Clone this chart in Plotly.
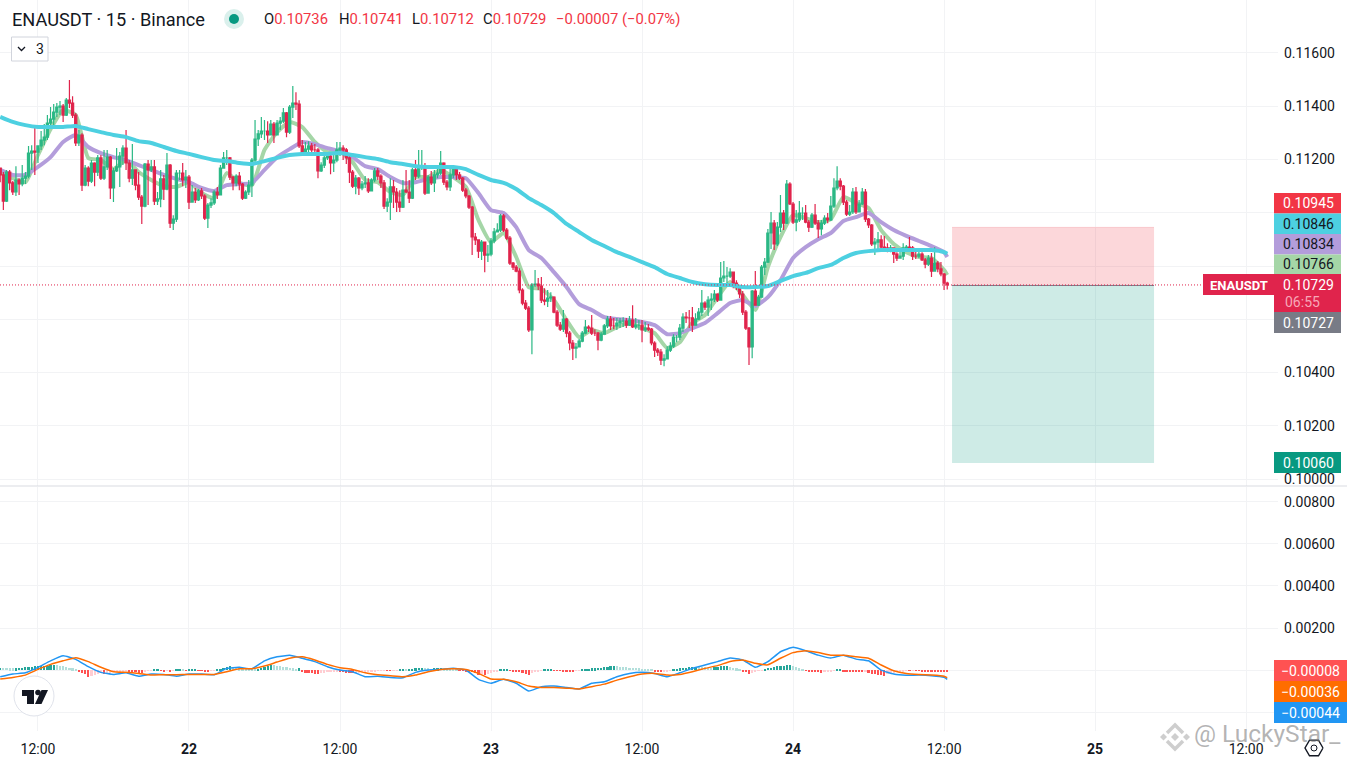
import numpy as np
import pandas as pd
import plotly.graph_objects as go

# 15 minute candles, prices in units of 0.00001
closes = [11142,11044,11153,11112,11078,11123,11108,11130,11138,11224,11232,11228,11251,11273,11284,11337,11352,11378,11397,11401,
11367,11423,11412,11367,11262,11292,11104,11168,11119,11187,11153,11206,11130,11172,11209,11093,11157,11172,11213,11243,
11187,11130,11161,11104,11059,11025,11183,11161,11172,11044,11052,11127,11089,11179,10961,10976,11149,11149,11123,11134,
11040,11078,11048,11082,11063,10980,11029,11037,11078,11067,11168,11206,11206,11134,11112,11138,11108,11055,11078,11104,
11198,11277,11296,11307,11307,11292,11333,11292,11337,11344,11375,11303,11397,11412,11408,11251,11224,11239,11251,11236,
11236,11157,11179,11206,11213,11187,11198,11236,11243,11236,11206,11153,11100,11130,11093,11108,11112,11082,11123,11157,
11138,11112,11025,11040,11097,11078,11040,11021,11085,11078,11055,11161,11138,11175,11175,11074,11134,11112,11142,11149,
11187,11115,11097,11142,11172,11142,11130,11085,11063,11021,10909,10898,10856,10890,10841,10845,10894,10928,10935,10988,
10935,10905,10811,10796,10781,10710,10661,10642,10560,10729,10732,10725,10672,10668,10680,10683,10627,10578,10563,10601,
10548,10511,10492,10496,10518,10548,10571,10567,10548,10548,10522,10544,10575,10601,10575,10575,10586,10593,10593,10578,
10597,10571,10578,10578,10560,10567,10563,10511,10484,10477,10447,10451,10484,10499,10533,10533,10567,10608,10605,10605,
10578,10601,10627,10661,10646,10672,10676,10695,10672,10755,10762,10762,10777,10736,10721,10695,10627,10567,10496,10706,
10653,10683,10796,10815,10924,10961,10883,10946,10999,10961,11108,11033,10965,10973,10999,10999,10965,10946,10991,10961,
10939,10961,10980,10973,11025,11093,11119,11100,11040,10995,11003,11078,11003,11033,11078,10976,10954,10883,10890,10898,
10871,10868,10860,10868,10845,10830,10837,10868,10871,10868,10837,10837,10845,10823,10807,10830,10781,10811,10789,10770,
10736,10729]
highs = [11168,11153,11161,11161,11119,11175,11130,11179,11153,11251,11254,11322,11254,11307,11333,11367,11397,11408,11412,11420,
11408,11431,11499,11438,11375,11311,11299,11179,11175,11198,11190,11217,11217,11236,11236,11213,11168,11243,11228,11254,
11311,11198,11258,11161,11153,11067,11187,11198,11198,11198,11078,11161,11142,11224,11183,10991,11161,11161,11187,11161,
11142,11104,11093,11089,11093,11070,11037,11055,11085,11097,11179,11228,11236,11209,11138,11145,11153,11112,11085,11123,
11206,11348,11311,11360,11348,11344,11348,11341,11348,11360,11393,11378,11405,11476,11453,11423,11273,11266,11269,11262,
11258,11243,11190,11224,11228,11217,11224,11266,11266,11254,11243,11213,11161,11142,11134,11119,11138,11130,11130,11168,
11168,11145,11123,11055,11130,11123,11093,11085,11123,11161,11123,11168,11198,11236,11236,11187,11142,11157,11161,11168,
11232,11190,11123,11168,11179,11175,11153,11134,11093,11067,11025,10924,10898,10898,10879,10879,10905,10943,10961,10995,
10995,10943,10913,10815,10804,10792,10717,10672,10650,10736,10785,10755,10759,10717,10710,10702,10687,10635,10590,10635,
10605,10556,10522,10511,10526,10556,10597,10578,10616,10563,10552,10552,10582,10612,10612,10605,10605,10605,10608,10605,
10612,10653,10605,10597,10597,10590,10582,10567,10518,10492,10488,10469,10499,10514,10544,10541,10582,10623,10627,10635,
10646,10623,10642,10710,10668,10687,10698,10710,10698,10815,10819,10796,10792,10777,10747,10729,10706,10635,10571,10710,
10781,10691,10804,10830,10939,11003,10973,10965,11067,11010,11123,11115,11040,11010,11044,11021,11029,10973,10999,11033,
10973,10973,10991,10999,11063,11130,11175,11130,11104,11048,11029,11093,11097,11048,11093,11089,10980,10958,10905,10928,
10916,10913,10886,10879,10871,10852,10860,10886,10879,10909,10875,10860,10860,10852,10830,10841,10849,10871,10819,10815,
10774,10741]
lows = [11115,11010,11040,11085,11067,11063,11067,11100,11108,11130,11161,11142,11187,11236,11254,11273,11326,11329,11360,11367,
11341,11363,11393,11356,11251,11251,11082,11100,11100,11112,11100,11138,11123,11123,11161,11052,11040,11153,11097,11179,
11161,11115,11104,11085,11048,10958,11021,11029,11153,11029,11029,11021,11048,11085,10943,10935,10965,11123,11100,11093,
11014,11044,11037,11044,11052,10973,10943,11018,11029,11052,11067,11168,11179,11123,11085,11100,11085,11048,11052,11067,
11059,11190,11251,11281,11273,11262,11292,11262,11292,11311,11337,11284,11296,11356,11386,11243,11213,11221,11228,11228,
11217,11130,11153,11168,11198,11145,11153,11190,11213,11198,11183,11112,11093,11070,11067,11085,11093,11074,11082,11115,
11123,11093,11014,11003,10973,11018,11003,11003,11018,11074,11037,11052,11123,11130,11161,11067,11078,11104,11078,11130,
11142,11104,11085,11082,11130,11123,11123,11078,11055,11014,10841,10879,10830,10823,10777,10815,10837,10886,10928,10928,
10928,10898,10804,10785,10777,10698,10653,10635,10552,10469,10721,10710,10661,10653,10646,10665,10623,10571,10556,10552,
10533,10484,10447,10454,10496,10514,10544,10552,10541,10537,10484,10518,10548,10567,10560,10563,10560,10567,10571,10567,
10575,10567,10563,10560,10514,10552,10556,10503,10458,10462,10428,10424,10454,10477,10492,10514,10522,10552,10586,10567,
10552,10578,10597,10612,10635,10612,10635,10665,10665,10683,10740,10736,10755,10717,10710,10680,10616,10560,10428,10454,
10653,10650,10683,10766,10811,10864,10860,10875,10928,10935,10958,11029,10958,10931,10965,10973,10961,10928,10943,10954,
10905,10916,10954,10961,10969,11018,11085,11085,11029,10988,10988,10995,10995,11003,11029,10965,10943,10875,10841,10860,
10860,10856,10852,10852,10811,10819,10830,10823,10860,10860,10823,10826,10830,10819,10792,10800,10759,10785,10777,10762,
10710,10712]
first_open = 11168

# moving averages, read once an hour from 09:00 plus the last candle
ma_fast = [11153,11130,11115,11217,11314,11386,11367,11206,11198,11164,11198,11153,11123,11100,11097,11115,11074,11055,11149,11112,
11104,11236,11303,11341,11322,11266,11228,11232,11190,11123,11115,11078,11067,11134,11134,11161,11134,11097,10973,10890,
10924,10834,10721,10714,10672,10597,10533,10560,10548,10571,10586,10567,10548,10492,10514,10586,10616,10683,10740,10691,
10635,10796,10909,10991,10980,10965,10976,11059,11037,11018,10935,10883,10852,10834,10830,10785,10766]
ma_mid = [11161,11142,11142,11172,11209,11266,11292,11247,11224,11209,11198,11179,11161,11142,11127,11115,11093,11082,11104,11108,
11112,11161,11209,11239,11266,11258,11243,11232,11209,11175,11164,11134,11112,11115,11127,11134,11134,11130,11074,11010,
10999,10946,10860,10830,10777,10721,10657,10635,10608,10601,10597,10590,10578,10544,10548,10567,10586,10623,10661,10672,
10650,10683,10747,10830,10871,10901,10924,10969,10984,10999,10965,10935,10913,10894,10875,10852,10834]
ma_slow = [11360,11341,11329,11322,11322,11322,11326,11314,11303,11292,11284,11269,11262,11247,11232,11221,11209,11198,11194,11187,
11183,11194,11206,11217,11221,11221,11221,11224,11217,11209,11202,11190,11183,11175,11172,11172,11172,11164,11142,11123,
11112,11089,11055,11029,10999,10958,10928,10898,10875,10852,10834,10815,10796,10770,10755,10740,10732,10729,10729,10721,
10721,10725,10744,10762,10774,10792,10804,10830,10849,10856,10860,10860,10860,10860,10860,10852,10846]

# MACD lines on the same hourly times, histogram per candle (units of 0.00001)
macd_line = [-32,-19,-13,13,44,68,51,16,-11,-21,-13,-29,-19,-21,-29,-19,-19,-22,8,13,
6,44,63,70,56,40,16,0,-8,-32,-29,-35,-37,-11,0,3,8,0,-44,-63,
-44,-63,-100,-79,-76,-83,-90,-63,-56,-32,-16,-11,-16,-32,-13,8,24,40,57,48,
13,40,87,108,92,71,57,71,52,44,0,-19,-25,-24,-27,-35,-44]
signal_line = [-43,-35,-24,3,27,44,59,40,13,-8,-11,-16,-24,-22,-22,-21,-21,-21,-8,6,
6,19,38,56,63,48,27,11,3,-13,-22,-27,-32,-24,-8,3,6,3,-16,-43,
-44,-56,-76,-83,-83,-86,-90,-79,-67,-48,-32,-19,-16,-24,-21,-8,8,21,41,48,
32,25,56,83,92,83,71,70,63,56,24,-3,-16,-21,-24,-29,-36]
macd_hist = [12,11,10,9,8,9,10,11,13,15,16,17,18,19,20,21,22,24,22,20,18,16,12,8,2,-8,-14,-20,-32,-26,-22,-18,-14,-18,-14,-12,-10,-9,-8,-6,
-3,-5,-7,-9,-12,-14,-6,-3,-2,2,3,-2,-5,-4,-7,-3,3,5,2,-2,1,2,3,-1,-3,-5,-6,-4,-2,1,6,10,14,18,14,12,9,7,5,3,2,1,6,10,14,18,
24,22,20,17,15,13,10,8,7,9,-8,-12,-14,-16,-18,-20,-14,-12,-10,-8,-6,-5,-7,-9,-12,-13,-15,-14,-12,-10,-8,-7,-6,-5,-4,-3,-2,-2,-3,-2,-1,1,2,1,2,
5,8,10,12,10,8,7,8,9,10,7,5,3,2,1,-1,-3,-5,-7,-10,-16,-22,-20,-25,-20,-15,-10,-5,1,2,2,-4,-6,-9,-11,-14,-18,-24,-12,-7,-5,-3,1,2,3,
-2,-3,-4,-5,-6,-7,-8,-3,-2,3,5,7,8,9,10,12,14,16,18,20,18,16,15,14,12,11,10,9,7,6,5,4,-6,-8,-9,-8,-6,-4,2,5,8,10,11,13,14,
16,15,14,13,12,11,14,16,17,18,19,15,12,8,3,-6,-10,-18,-12,-8,-4,-2,6,10,12,15,17,19,20,22,24,18,14,8,4,-3,-5,-6,-8,-10,-12,-10,-8,-6,-2,2,4,
-5,-6,-7,-8,-9,-10,-11,-10,-14,-18,-20,-22,-24,-26,-20,-16,-12,-9,-7,-5,-4,-4,-3,-3,-3,-5,-6,-6,-7,-7,-8,-8,-8,-8]

price_ticks = [0.116, 0.114, 0.112, 0.110, 0.108, 0.106, 0.104, 0.102, 0.100]
price_labels = ["0.11600", "0.11400", "0.11200", "", "", "", "0.10400", "0.10200", "0.10000"]
macd_ticks = [0.008, 0.006, 0.004, 0.002, 0.0, -0.002]
macd_labels = ["0.00800", "0.00600", "0.00400", "0.00200", "", ""]
time_ticks = ["2025-06-21 12:00", "2025-06-22 00:00", "2025-06-22 12:00", "2025-06-23 00:00", "2025-06-23 12:00",
              "2025-06-24 00:00", "2025-06-24 12:00", "2025-06-25 00:00", "2025-06-25 12:00"]
time_labels = ["12:00", "<b>22</b>", "12:00", "<b>23</b>", "12:00", "<b>24</b>", "12:00", "<b>25</b>", "12:00"]

last_price = 0.10729
stop_price = 0.10945
entry_price = 0.10727
target_price = 0.10060
position_start = "2025-06-24 12:38"
position_end = "2025-06-25 04:41"

# sizes of the chart area in pixels, used for everything placed outside the axes
PLOT_W = 1278
PLOT_H = 731
PANE_SPLIT = 486

UP = "#2BB885"
DOWN = "#E0244C"
GRID = "#F2F3F5"
FONT = "Roboto"


def px(x):
    return x / PLOT_W


def py(y):
    return 1 - y / PLOT_H


times = pd.date_range(end="2025-06-24 12:15", periods=len(closes), freq="15min")
ma_times = list(times[: len(times) - 1:4]) + [times[-1]]

scale = 1e-5
c = np.array(closes) * scale
o = np.array([first_open] + closes[:-1]) * scale
hi = np.array(highs) * scale
lo = np.array(lows) * scale

# histogram colours: dark while the bar grows, pale while it shrinks
hist_colors = []
prev = 0
for v in macd_hist:
    if v >= 0:
        hist_colors.append("#26A69A" if v >= prev else "#B2DFDB")
    else:
        hist_colors.append("#FF5252" if v <= prev else "#FFCDD2")
    prev = v

fig = go.Figure()

# green and purple sit under the candles, the slow line over them
fig.add_trace(go.Scatter(x=ma_times, y=np.array(ma_fast) * scale, mode="lines", xaxis="x", yaxis="y",
                         line=dict(color="#A5D6A7", width=4, shape="spline", smoothing=0.5)))
fig.add_trace(go.Scatter(x=ma_times, y=np.array(ma_mid) * scale, mode="lines", xaxis="x", yaxis="y",
                         line=dict(color="#B39DDB", width=4, shape="spline", smoothing=0.5)))
fig.add_trace(go.Candlestick(x=times, open=o, high=hi, low=lo, close=c, xaxis="x", yaxis="y3", whiskerwidth=0,
                             increasing=dict(line=dict(color=UP, width=1.2), fillcolor=UP),
                             decreasing=dict(line=dict(color=DOWN, width=1.2), fillcolor=DOWN)))
fig.add_trace(go.Scatter(x=ma_times, y=np.array(ma_slow) * scale, mode="lines", xaxis="x", yaxis="y3",
                         line=dict(color="#4DD0E1", width=4, shape="spline", smoothing=0.5)))

fig.add_trace(go.Bar(x=times, y=np.array(macd_hist) * scale, marker=dict(color=hist_colors, line_width=0),
                     width=15 * 60 * 1000 * 0.7, xaxis="x2", yaxis="y2"))
fig.add_trace(go.Scatter(x=ma_times, y=np.array(macd_line) * scale, mode="lines", xaxis="x2", yaxis="y2",
                         line=dict(color="#2196F3", width=1.5, shape="spline", smoothing=0.4)))
fig.add_trace(go.Scatter(x=ma_times, y=np.array(signal_line) * scale, mode="lines", xaxis="x2", yaxis="y2",
                         line=dict(color="#FF6D00", width=1.5, shape="spline", smoothing=0.4)))

shapes = []
annotations = []


def add_text(text, x, y, size=14, color="#131722", anchor="left"):
    annotations.append(dict(text=text, x=px(x), y=py(y), xref="paper", yref="paper", showarrow=False,
                            xanchor=anchor, yanchor="middle", align=anchor, borderpad=0,
                            font=dict(family=FONT, size=size, color=color)))


def add_box(x0, y0, x1, y1, fill, line=None):
    shapes.append(dict(type="rect", xref="paper", yref="paper", x0=px(x0), x1=px(x1), y0=py(y0), y1=py(y1),
                       fillcolor=fill, line=dict(color=line or fill, width=1 if line else 0), layer="above"))


def add_path(points, fill=None, line=None, width=1):
    d = "M" + " L".join(f"{px(a):.5f},{py(b):.5f}" for a, b in points)
    if fill:
        d += " Z"
    shapes.append(dict(type="path", path=d, xref="paper", yref="paper", layer="above",
                       fillcolor=fill or "rgba(0,0,0,0)", line=dict(color=line or fill, width=width if line else 0)))


def add_circle(cx, cy, r, fill, line=None):
    shapes.append(dict(type="circle", xref="paper", yref="paper", x0=px(cx - r), x1=px(cx + r), y0=py(cy + r), y1=py(cy - r),
                       fillcolor=fill, line=dict(color=line or fill, width=1 if line else 0), layer="above"))


# long position tool
shapes.append(dict(type="rect", xref="x", yref="y", x0=position_start, x1=position_end, y0=entry_price, y1=stop_price,
                   fillcolor="rgba(242,54,69,0.2)", line_width=0, layer="above"))
shapes.append(dict(type="rect", xref="x", yref="y", x0=position_start, x1=position_end, y0=target_price, y1=entry_price,
                   fillcolor="rgba(8,153,129,0.2)", line_width=0, layer="above"))
shapes.append(dict(type="line", xref="x", yref="y", x0=position_start, x1=position_end, y0=stop_price, y1=stop_price,
                   line=dict(color="#F9C6CB", width=1), layer="above"))
shapes.append(dict(type="line", xref="x", yref="y", x0=position_start, x1=position_end, y0=entry_price, y1=entry_price,
                   line=dict(color="#787B86", width=1), layer="above"))

# last price line and the pane divider
shapes.append(dict(type="line", xref="paper", yref="y", x0=0, x1=px(1204), y0=last_price, y1=last_price,
                   line=dict(color=DOWN, width=1, dash="1px,2px"), layer="above"))
shapes.append(dict(type="line", xref="paper", yref="paper", x0=0, x1=px(1347), y0=py(PANE_SPLIT), y1=py(PANE_SPLIT),
                   line=dict(color="#D9DBE1", width=1), layer="above"))

# price tags on the right scale
price_tags = [("0.10945", 193, 213.5, "#F23645", "white"), ("0.10846", 213.5, 234, "#4DD0E1", "#131722"),
              ("0.10834", 234, 254.5, "#B39DDB", "#131722"), ("0.10766", 254.5, 274, "#A5D6A7", "#131722"),
              ("0.10727", 312, 333, "#787B86", "white"), ("0.10060", 452, 473, "#089981", "white")]
for label, y0, y1, fill, ink in price_tags:
    add_box(1274, y0, 1341, y1, fill)
    add_text(label, 1335, (y0 + y1) / 2, color=ink, anchor="right")
add_box(1203, 274, 1341, 295, DOWN)
add_box(1274, 295, 1341, 312, DOWN)
add_text("<b>ENAUSDT</b>", 1209, 285, size=13, color="white")
add_text("0.10729", 1335, 285, color="white", anchor="right")
add_text("06:55", 1284, 302, size=14, color="#F7A8B8")

macd_tags = [("\u22120.00008", 660, 681, "#FF5252"), ("\u22120.00036", 681, 702, "#FF6D00"), ("\u22120.00044", 702, 723, "#2196F3")]
for label, y0, y1, fill in macd_tags:
    add_box(1274, y0, 1347, y1, fill)
    add_text(label, 1341, (y0 + y1) / 2, color="white", anchor="right")

# legend line
add_text("ENAUSDT \u00b7 15 \u00b7 Binance", 11, 19, size=18.2)
add_circle(234, 19, 10, "#DAF0EC")
add_circle(234, 19, 5, "#089981")
red = "#F23645"
legend_items = [("O", "0.10736", 263), ("H", "0.10741", 338), ("L", "0.10712", 411), ("C", "0.10729", 482)]
for letter, value, x in legend_items:
    add_text(f'{letter}<span style="color:{red}">{value}</span>', x, 19, size=14.8)
add_text("\u22120.00007 (\u22120.07%)", 555, 19, size=14.8, color=red)

# collapsed indicators button
add_box(11.5, 37, 48, 61, "white", "#D1D4DC")
add_path([(18, 47), (21.5, 50.5), (25, 47)], line="#131722", width=1.3)
add_text("3", 35, 49, size=14)

# chart vendor logo
add_circle(34, 696, 20, "white", "#E0E3EB")
add_path([(22, 690), (34, 690), (34, 704), (27, 704), (27, 696), (22, 696)], fill="#131722")
add_circle(38, 692.5, 2.8, "#131722")
add_path([(41.5, 690), (48, 690), (41.5, 704), (35, 704)], fill="#131722")

# settings button
hex_r = 9
add_path([(1314 + hex_r * np.cos(a), 748 + hex_r * np.sin(a)) for a in np.radians([0, 60, 120, 180, 240, 300, 360])],
         line="#131722", width=1.4)
add_circle(1314, 748, 3, "white", "#131722")

# watermark
mark = "rgba(185,185,185,0.7)"
add_path([(1167, 733), (1175, 725), (1183, 733)], line=mark, width=3.5)
add_path([(1167, 741), (1175, 749), (1183, 741)], line=mark, width=3.5)
for cx, r in [(1163.5, 3.5), (1175, 4), (1186.5, 3.5)]:
    add_path([(cx, 737 - r), (cx + r, 737), (cx, 737 + r), (cx - r, 737)], fill=mark)
add_text("@ LuckyStar_", 1193, 734, size=24.5, color="rgba(130,130,130,0.6)")

price_range = [0.11799, 0.09974]
axis_common = dict(showgrid=True, gridcolor=GRID, gridwidth=1, zeroline=False, showline=False, ticks="", fixedrange=True)

fig.update_layout(
    width=1347,
    height=759,
    margin=dict(l=0, r=1347 - PLOT_W, t=0, b=759 - PLOT_H),
    paper_bgcolor="white",
    plot_bgcolor="white",
    showlegend=False,
    boxgap=0.02,
    bargap=0,
    hovermode=False,
    font=dict(family=FONT, size=14, color="#131722"),
    shapes=shapes,
    annotations=annotations,
    xaxis=dict(axis_common, matches="x2", anchor="y", showticklabels=False, tickvals=time_ticks, type="date",
               rangeslider=dict(visible=False), range=["2025-06-21 08:59", "2025-06-25 14:32"]),
    xaxis2=dict(axis_common, anchor="y2", tickvals=time_ticks, ticktext=time_labels, type="date",
                range=["2025-06-21 08:59", "2025-06-25 14:32"], ticklabelstandoff=8),
    yaxis=dict(axis_common, domain=[(PLOT_H - PANE_SPLIT) / PLOT_H, 1], side="right", anchor="x",
               range=price_range[::-1], tickvals=price_ticks, ticktext=price_labels, ticklabelstandoff=5),
    yaxis3=dict(overlaying="y", side="right", anchor="x", range=price_range[::-1], visible=False, fixedrange=True),
    yaxis2=dict(axis_common, domain=[0, (PLOT_H - PANE_SPLIT - 1) / PLOT_H], side="right", anchor="x2",
                range=[-0.0029, 0.00871], tickvals=macd_ticks, ticktext=macd_labels, ticklabelstandoff=5),
)

fig.write_html("out.html", config=dict(displayModeBar=False), post_script="document.body.style.margin='0';")
